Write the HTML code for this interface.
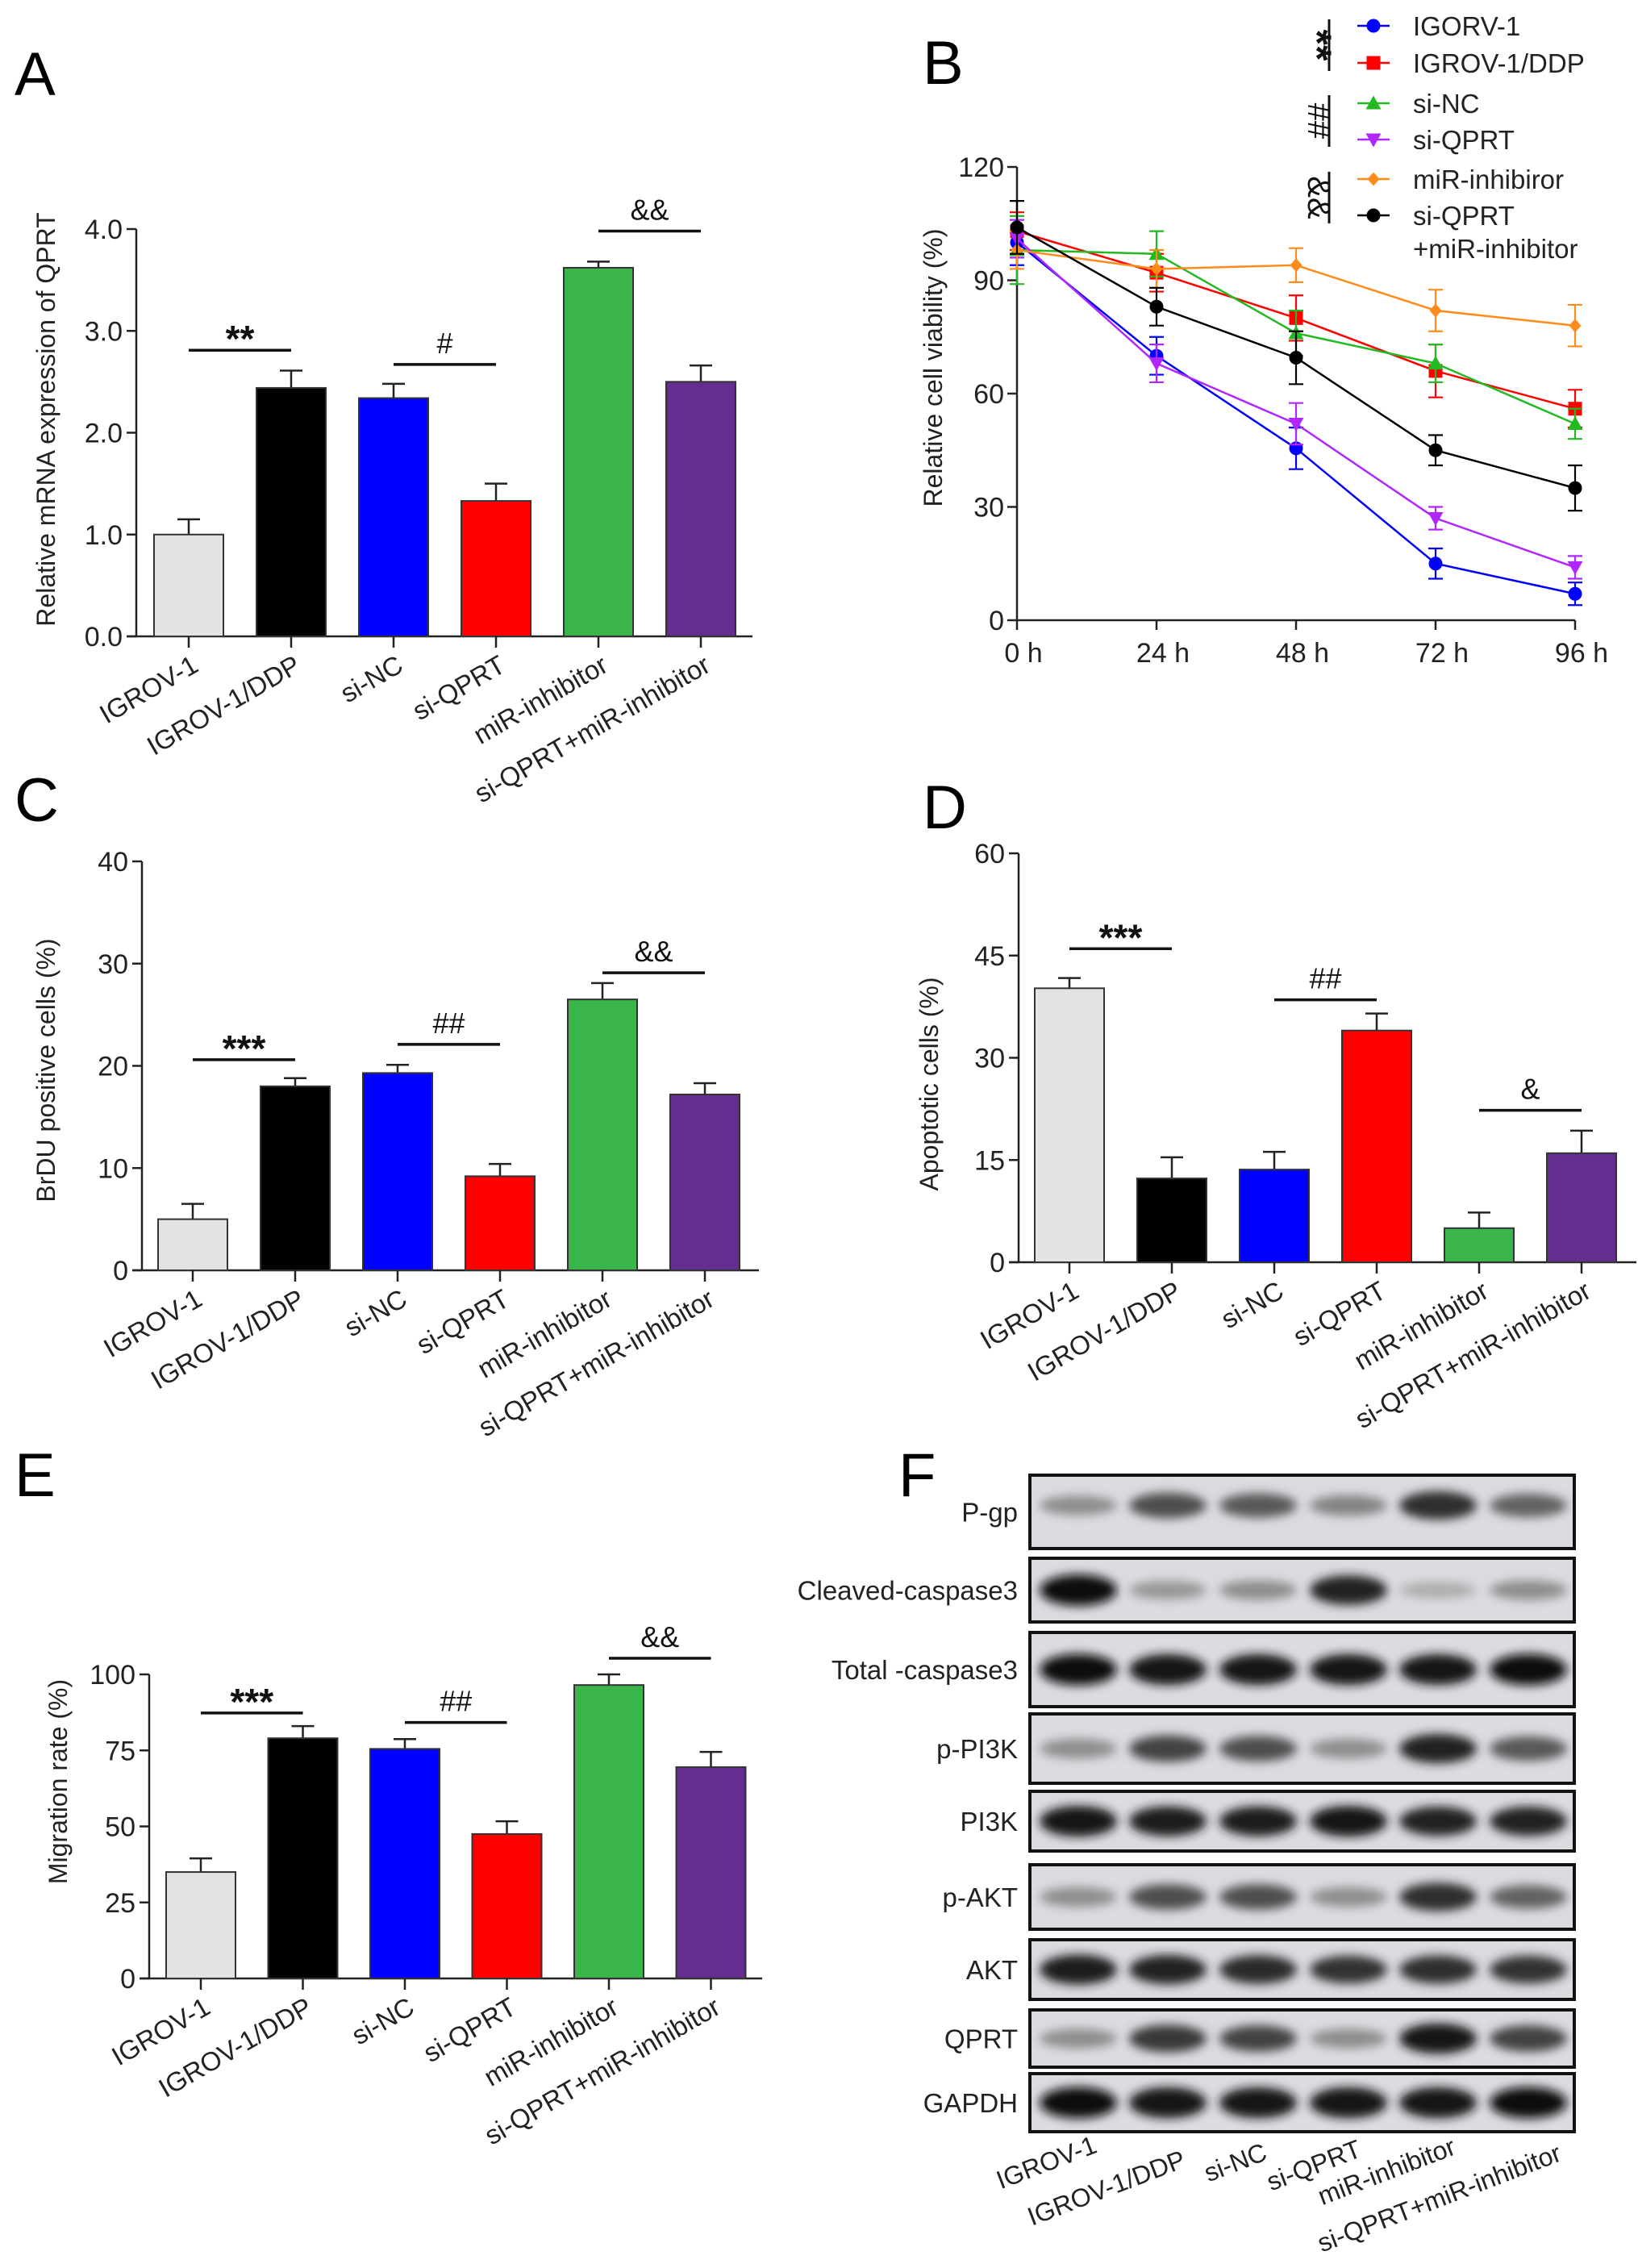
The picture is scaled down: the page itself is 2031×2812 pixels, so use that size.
<!DOCTYPE html>
<html><head><meta charset="utf-8">
<style>
html,body{margin:0;padding:0;background:#fff;}
svg{display:block;font-family:"Liberation Sans",Arial,sans-serif;}
</style></head>
<body>
<svg id="fig" width="2031" height="2812" viewBox="0 0 2031 2812" xmlns="http://www.w3.org/2000/svg">
<defs>
<filter id="blur" x="-30%" y="-100%" width="160%" height="300%"><feGaussianBlur stdDeviation="6"/></filter>
</defs>
<rect x="0" y="0" width="2031" height="2812" fill="#fff"/>
<text x="18" y="118" font-size="76">A</text>
<text x="1144" y="104" font-size="76">B</text>
<text x="18" y="1018" font-size="76">C</text>
<text x="1144" y="1027" font-size="76">D</text>
<text x="18" y="1855" font-size="76">E</text>
<text x="1114" y="1855" font-size="76">F</text>
</svg>
<script>
const categories = ["IGROV-1","IGROV-1/DDP","si-NC","si-QPRT","miR-inhibitor","si-QPRT+miR-inhibitor"];
const barColors = ["#e3e3e3","#000000","#0000ff","#ff0000","#39b54a","#662d91"];
// Panel A
const aValues = [1.0,2.44,2.34,1.33,3.62,2.5];
const aErrors = [0.15,0.17,0.14,0.17,0.06,0.16];
const aTicks = ["0.0","1.0","2.0","3.0","4.0"];
const aTickVals = [0,1,2,3,4];
const aSig = [{a:0,b:1,v:2.81,t:"**"},{a:2,b:3,v:2.67,t:"#"},{a:4,b:5,v:3.98,t:"&&"}];
// Panel C
const cValues = [5.0,18.0,19.3,9.2,26.5,17.2];
const cErrors = [1.5,0.8,0.8,1.2,1.6,1.1];
const cTicks = ["0","10","20","30","40"];
const cTickVals = [0,10,20,30,40];
const cSig = [{a:0,b:1,v:20.6,t:"***"},{a:2,b:3,v:22.1,t:"##"},{a:4,b:5,v:29.1,t:"&&"}];
// Panel D
const dValues = [40.2,12.3,13.6,34.0,5.0,16.0];
const dErrors = [1.5,3.1,2.6,2.5,2.3,3.3];
const dTicks = ["0","15","30","45","60"];
const dTickVals = [0,15,30,45,60];
const dSig = [{a:0,b:1,v:46.0,t:"***"},{a:2,b:3,v:38.5,t:"##"},{a:4,b:5,v:22.3,t:"&"}];
// Panel E
const eValues = [35,79,75.5,47.5,96.5,69.5];
const eErrors = [4.5,4,3.2,4.2,3.5,5];
const eTicks = ["0","25","50","75","100"];
const eTickVals = [0,25,50,75,100];
const eSig = [{a:0,b:1,v:87.3,t:"***"},{a:2,b:3,v:84.2,t:"##"},{a:4,b:5,v:105.3,t:"&&"}];
// Panel B
const bTimes = ["0 h","24 h","48 h","72 h","96 h"];
const bTimeVals = [0,24,48,72,96];
const bTicks = ["0","30","60","90","120"];
const bTickVals = [0,30,60,90,120];
const bSeriesNames = ["IGORV-1","IGROV-1/DDP","si-NC","si-QPRT","miR-inhibiror","si-QPRT+miR-inhibitor"];
const bColors = ["#0000ff","#ff0000","#22b922","#b026ff","#ff8c1a","#000000"];
const bMarkers = ["circle","square","tri","tridown","diamond","circle"];
const s1 = [100,70,45.5,15,7];
const s1e = [6,5,5.5,4,3];
const s2 = [103,92,80,66,56];
const s2e = [5,5,6,7,5];
const s3 = [98,97,76,68,52];
const s3e = [9,6,6,5,4];
const s4 = [101,68,52,27,14];
const s4e = [5,5,5.5,3,3];
const s5 = [98,93,94,82,78];
const s5e = [5,5,4.5,5.5,5.5];
const s6 = [104,83,69.5,45,35];
const s6e = [7,5,7,4,6];
// Panel F (band intensities 0-1)
const blotRows = ["P-gp","Cleaved-caspase3","Total -caspase3","p-PI3K","PI3K","p-AKT","AKT","QPRT","GAPDH"];
const r1 = [0.35,0.65,0.6,0.4,0.8,0.55];
const r2 = [0.95,0.3,0.35,0.85,0.2,0.35];
const r3 = [0.95,0.93,0.93,0.93,0.92,0.95];
const r4 = [0.35,0.7,0.65,0.35,0.85,0.6];
const r5 = [0.92,0.88,0.88,0.92,0.85,0.85];
const r6 = [0.35,0.65,0.65,0.35,0.8,0.55];
const r7 = [0.88,0.85,0.82,0.78,0.8,0.78];
const r8 = [0.35,0.75,0.7,0.35,0.9,0.7];
const r9 = [0.95,0.93,0.92,0.93,0.93,0.95];

const NS="http://www.w3.org/2000/svg";
const svg=document.getElementById('fig');
function el(tag,attrs,parent){const e=document.createElementNS(NS,tag);for(const k in attrs)e.setAttribute(k,attrs[k]);(parent||svg).appendChild(e);return e;}

function barChart(p){
  const g=el('g',{});
  
  
  const vmax=p.tickVals[p.tickVals.length-1];
  const Y=v=>p.y0-(v/vmax)*(p.y0-p.yTop);
  const X=i=>p.x1+i*p.step;
  const ya=el('line',{x1:p.xAxis,y1:p.yTop,x2:p.xAxis,y2:p.y0,stroke:'#222','stroke-width':2.5},g);
  
  
  const xa=el('line',{x1:p.xAxis-12,y1:p.y0,x2:p.xEnd,y2:p.y0,stroke:'#222','stroke-width':2.5},g);
  
  
  p.tickVals.forEach((v,i)=>{
    el('line',{x1:p.xAxis-12,y1:Y(v),x2:p.xAxis,y2:Y(v),stroke:'#222','stroke-width':2.5},g);
    const t=el('text',{x:p.xAxis-17,y:Y(v)+12,'font-size':34,'text-anchor':'end',fill:'#222'},g);
    t.textContent=p.ticks[i];
    
    
  });
  const yt=el('text',{x:0,y:0,'font-size':p.titleSize||32,'text-anchor':'middle',fill:'#222',transform:`translate(${p.titleX},${p.titleY}) rotate(-90)`},g);
  yt.textContent=p.title;
  
  
  p.values.forEach((v,i)=>{
    const cx=X(i), w=p.bw;
    const top=Y(v), et=Y(v+p.errors[i]);
    el('line',{x1:cx,y1:top,x2:cx,y2:et,stroke:'#222','stroke-width':2.5},g);
    el('line',{x1:cx-14,y1:et,x2:cx+14,y2:et,stroke:'#222','stroke-width':2.5},g);
    const r=el('rect',{x:cx-w/2,y:top,width:w,height:p.y0-top,fill:barColors[i],stroke:'#333','stroke-width':2},g);
    
    
    el('line',{x1:cx,y1:p.y0,x2:cx,y2:p.y0+14,stroke:'#222','stroke-width':2.5},g);
    const lx=cx+14, ly=p.y0+42;
    const t=el('text',{x:lx,y:ly,'font-size':33,'text-anchor':'end',fill:'#222',transform:`rotate(-30 ${lx} ${ly})`},g);
    t.textContent=categories[i];
    
    
  });
  p.sig.forEach(s=>{
    const y=Y(s.v);
    el('line',{x1:X(s.a),y1:y,x2:X(s.b),y2:y,stroke:'#111','stroke-width':3.5},g);
    const star=s.t.indexOf('*')>=0;
    const t=el('text',{x:(X(s.a)+X(s.b))/2,y:star?y+2:y-14,'font-size':star?46:36,'font-weight':star?'bold':'normal','text-anchor':'middle',fill:'#111'},g);
    t.textContent=s.t;
    
    
  });
}

barChart({name:'panel-a-chart',values:aValues,errors:aErrors,ticks:aTicks,tickVals:aTickVals,sig:aSig,
  xAxis:169,y0:789,yTop:284,x1:234,step:127,bw:86,xEnd:933,title:'Relative mRNA expression of QPRT',titleX:68,titleY:520});
barChart({name:'panel-c-chart',values:cValues,errors:cErrors,ticks:cTicks,tickVals:cTickVals,sig:cSig,
  xAxis:176,y0:1575,yTop:1068,x1:239,step:127,bw:86,xEnd:941,title:'BrDU positive cells (%)',titleX:68,titleY:1327});
barChart({name:'panel-d-chart',values:dValues,errors:dErrors,ticks:dTicks,tickVals:dTickVals,sig:dSig,
  xAxis:1263,y0:1565,yTop:1058,x1:1326,step:127,bw:86,xEnd:2029,title:'Apoptotic cells (%)',titleX:1163,titleY:1344});
barChart({name:'panel-e-chart',values:eValues,errors:eErrors,ticks:eTicks,tickVals:eTickVals,sig:eSig,
  xAxis:185,y0:2453,yTop:2076,x1:249,step:126.5,bw:86,xEnd:945,title:'Migration rate (%)',titleX:83,titleY:2209});

// Panel B line chart
(function(){
  const g=el('g',{});
  
  
  const x0=1261,x1=1953,y0=769,yT=207;
  const X=t=>x0+(t/96)*(x1-x0);
  const Y=v=>y0-(v/120)*(y0-yT);
  el('line',{x1:x0,y1:yT,x2:x0,y2:y0,stroke:'#222','stroke-width':2.5},g);
  el('line',{x1:x0,y1:y0,x2:x1,y2:y0,stroke:'#222','stroke-width':2.5},g);
  bTickVals.forEach((v,i)=>{
    el('line',{x1:x0-12,y1:Y(v),x2:x0,y2:Y(v),stroke:'#222','stroke-width':2.5},g);
    const t=el('text',{x:x0-16,y:Y(v)+12,'font-size':34,'text-anchor':'end',fill:'#222'},g);
    t.textContent=bTicks[i];
    
    
  });
  bTimeVals.forEach((v,i)=>{
    el('line',{x1:X(v),y1:y0,x2:X(v),y2:y0+12,stroke:'#222','stroke-width':2.5},g);
    const t=el('text',{x:X(v)+8,y:y0+52,'font-size':34,'text-anchor':'middle',fill:'#222'},g);
    t.textContent=bTimes[i];
    
    
  });
  const yt=el('text',{x:0,y:0,'font-size':32,'text-anchor':'middle',fill:'#222',transform:`translate(1168,456) rotate(-90)`},g);
  yt.textContent='Relative cell viability (%)';
  
  
  function marker(type,cx,cy,c,parent){
    const r=8.5;
    if(type==='circle') return el('circle',{cx,cy,r,fill:c},parent);
    if(type==='square') return el('rect',{x:cx-r,y:cy-r,width:2*r,height:2*r,fill:c},parent);
    if(type==='tri') return el('polygon',{points:`${cx},${cy-r-1} ${cx-r-1},${cy+r-1} ${cx+r+1},${cy+r-1}`,fill:c},parent);
    if(type==='tridown') return el('polygon',{points:`${cx},${cy+r+1} ${cx-r-1},${cy-r+1} ${cx+r+1},${cy-r+1}`,fill:c},parent);
    return el('polygon',{points:`${cx},${cy-r} ${cx+r-1},${cy} ${cx},${cy+r} ${cx-r+1},${cy}`,fill:c},parent);
  }
  const series=[[s1,s1e],[s2,s2e],[s3,s3e],[s4,s4e],[s5,s5e],[s6,s6e]];
  series.forEach((s,k)=>{
    const sg=el('g',{},g);
    
    
    const c=bColors[k];
    const pts=s[0].map((v,i)=>`${X(bTimeVals[i])},${Y(v)}`).join(' ');
    el('polyline',{points:pts,fill:'none',stroke:c,'stroke-width':2.5},sg);
    s[0].forEach((v,i)=>{
      const cx=X(bTimeVals[i]),e=s[1][i];
      el('line',{x1:cx,y1:Y(v-e),x2:cx,y2:Y(v+e),stroke:c,'stroke-width':2.2},sg);
      el('line',{x1:cx-9,y1:Y(v-e),x2:cx+9,y2:Y(v-e),stroke:c,'stroke-width':2.2},sg);
      el('line',{x1:cx-9,y1:Y(v+e),x2:cx+9,y2:Y(v+e),stroke:c,'stroke-width':2.2},sg);
      const m=marker(bMarkers[k],cx,Y(v),c,sg);
      
      
    });
  });
  const rowsY=[32,78,128,173,222,267];
  bSeriesNames.forEach((n,k)=>{
    const lg=el('g',{},g);
    
    
    const y=rowsY[k];
    el('line',{x1:1683,y1:y,x2:1723,y2:y,stroke:bColors[k],'stroke-width':2.5},lg);
    marker(bMarkers[k],1703,y,bColors[k],lg);
    const t=el('text',{x:1752,y:y+12,'font-size':33,fill:'#222'},lg);
    t.textContent = k===5 ? 'si-QPRT' : n;
    if(k===5){const t2=el('text',{x:1752,y:320,'font-size':33,fill:'#222'},lg);t2.textContent='+miR-inhibitor';}
  });
  [[24,88,'**',true],[118,182,'##',false],[213,277,'&&',false]].forEach(a=>{
    el('line',{x1:1648,y1:a[0],x2:1648,y2:a[1],stroke:'#111','stroke-width':3},g);
    const t=el('text',{x:0,y:0,'font-size':a[3]?50:40,'font-weight':a[3]?'bold':'normal','text-anchor':'middle',fill:'#111',transform:`translate(${a[3]?1616:1622},${(a[0]+a[1])/2}) rotate(90)`},g);
    t.textContent=a[2];
    
    
  });
})();

// Panel F western blot
(function(){
  const g=el('g',{});
  
  
  const rowBox=[[1829,1920],[1932,2011],[2024,2116],[2125,2211],[2221,2295],[2312,2392],[2405,2479],[2492,2563],[2571,2643]];
  const inten=[r1,r2,r3,r4,r5,r6,r7,r8,r9];
  const lanes=[1337,1448,1560,1672,1783,1895];
  blotRows.forEach((name,r)=>{
    const rg=el('g',{},g);
    
    
    const [t,b]=rowBox[r];
    el('rect',{x:1277,y:t,width:675,height:b-t,fill:'#dadce0'},rg);
    const bg=el('g',{filter:'url(#blur)'},rg);
    const cy=(t+b)/2 + (r===0?-8:0);
    inten[r].forEach((v,i)=>{
      const gray=Math.round(215-212*v);
      el('ellipse',{cx:lanes[i],cy:cy,rx:48,ry:8+12*v,fill:`rgb(${gray},${gray},${gray})`},bg);
    });
    el('rect',{x:1277,y:t,width:675,height:b-t,fill:'none',stroke:'#111','stroke-width':4},rg);
    const lt=el('text',{x:1262,y:(t+b)/2+12,'font-size':33,'text-anchor':'end',fill:'#222'},rg);
    lt.textContent=name;
    
    
  });
  const ends=[[1362,2668],[1472,2686],[1573,2677],[1690,2673],[1807,2670],[1938,2678]];
  categories.forEach((c,i)=>{
    const [x,y]=ends[i];
    const t=el('text',{x:x,y:y,'font-size':32,'text-anchor':'end',fill:'#222',transform:`rotate(-21 ${x} ${y})`},g);
    t.textContent=c;
    
    
  });
})();
</script>
</body></html>
